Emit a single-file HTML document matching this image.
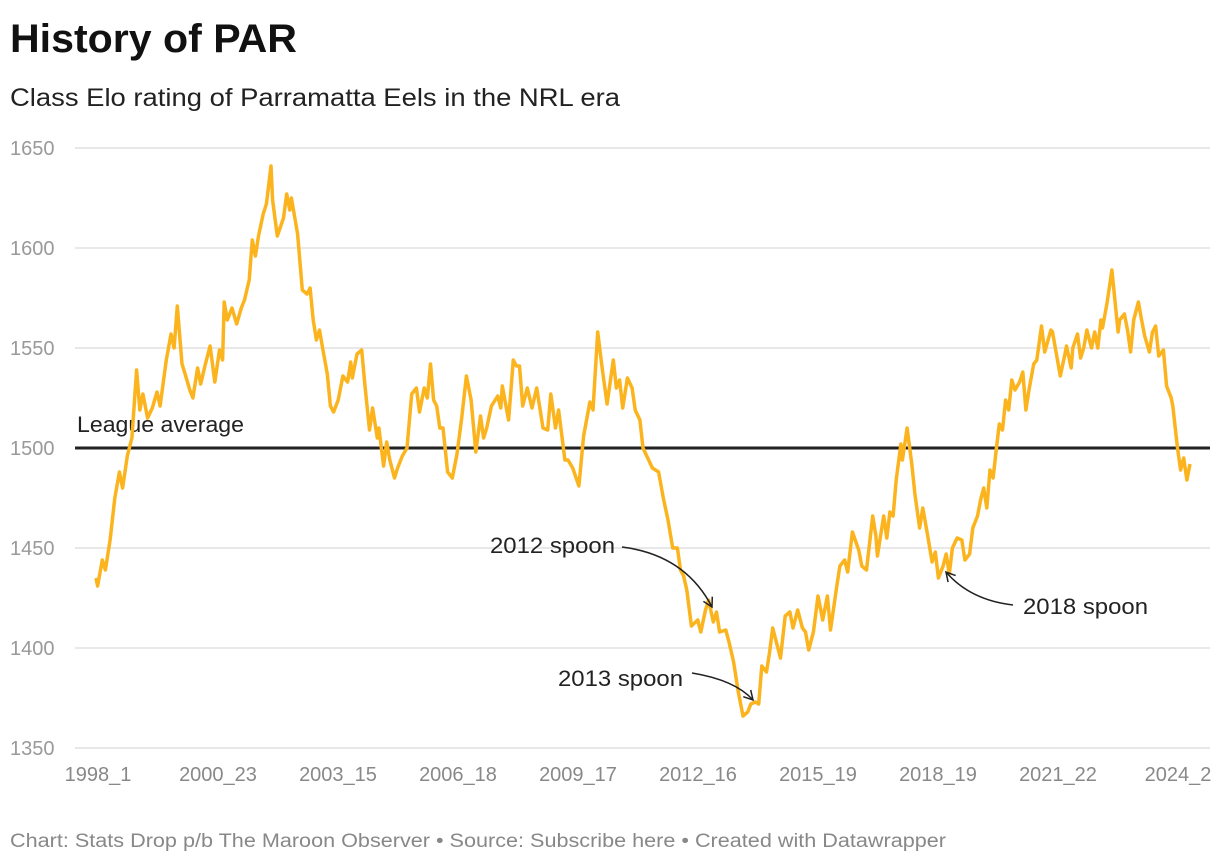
<!DOCTYPE html>
<html><head><meta charset="utf-8"><style>
body{margin:0;background:#fff;width:1220px;height:864px;overflow:hidden;font-family:"Liberation Sans",sans-serif}
svg{position:absolute;left:0;top:0}
</style></head><body>
<svg width="1220" height="864">
<text x="10" y="52" font-size="40" font-weight="bold" fill="#111" textLength="287" lengthAdjust="spacingAndGlyphs">History of PAR</text>
<text x="10" y="106" font-size="25" fill="#222" textLength="610" lengthAdjust="spacingAndGlyphs">Class Elo rating of Parramatta Eels in the NRL era</text>
<g id="grid"></g><g id="yt"></g><g id="xt"></g>
<line x1="75" x2="1210" y1="448" y2="448" stroke="#222" stroke-width="3"/>
<text x="77" y="432" font-size="22" fill="#222" textLength="167" lengthAdjust="spacingAndGlyphs">League average</text>
<path id="line" fill="none" stroke="#fbb41e" stroke-width="3.5" stroke-linejoin="round"/>
<defs><marker id="ah" markerWidth="12" markerHeight="12" refX="10" refY="6" orient="auto" markerUnits="userSpaceOnUse"><path d="M1,1 L10,6 L1,11" fill="none" stroke="#222" stroke-width="1.5"/></marker></defs>
<g font-size="22" fill="#222">
<text x="490" y="553" textLength="125" lengthAdjust="spacingAndGlyphs">2012 spoon</text>
<path d="M622,547 Q685,555 712,607" fill="none" stroke="#222" stroke-width="1.5" marker-end="url(#ah)"/>
<text x="558" y="686" textLength="125" lengthAdjust="spacingAndGlyphs">2013 spoon</text>
<path d="M692,673 Q735,680 753,700" fill="none" stroke="#222" stroke-width="1.5" marker-end="url(#ah)"/>
<text x="1023" y="614" textLength="125" lengthAdjust="spacingAndGlyphs">2018 spoon</text>
<path d="M1013,605 Q970,600 946,572" fill="none" stroke="#222" stroke-width="1.5" marker-end="url(#ah)"/>
</g>
<text x="10" y="847" font-size="19" fill="#888" textLength="936" lengthAdjust="spacingAndGlyphs">Chart: Stats Drop p/b The Maroon Observer • Source: Subscribe here • Created with Datawrapper</text>
</svg>
<script>
const games=[0,1,4,6,9,12,15,17,20,23,26,28,30,33,36,39,41,45,48,50,52,55,57,60,62,65,67,70,73,76,79,81,82,84,87,90,93,95,98,100,102,104,107,109,112,113,116,120,122,124,125,129,132,135,137,139,141,143,145,148,150,152,155,158,161,163,164,167,170,172,175,177,180,181,184,186,188,191,193,196,199,202,205,207,210,212,214,216,218,220,222,225,228,231,234,237,240,243,246,248,250,253,257,259,260,264,267,269,271,273,276,279,282,286,289,291,294,296,300,302,305,309,312,316,318,321,324,327,331,333,335,337,340,343,345,348,350,353,356,360,363,366,369,372,374,376,378,381,385,387,390,392,395,397,399,403,405,408,411,414,417,419,422,424,426,429,431,433,435,438,441,444,446,449,452,454,456,459,462,465,468,470,474,476,479,481,484,488,490,493,497,499,500,504,506,508,510,512,515,516,519,522,524,527,529,532,535,537,539,542,544,546,548,551,554,556,559,561,564,566,568,570,572,574,576,578,580,582,584,586,588,591,593,595,597,600,602,605,607,611,612,617,620,621,624,625,628,630,632,634,637,639,641,643,644,647,650,654,655,658,660,662,664,667,669,671,674,676,678,680,683,685,688,689,692,694,696,698,700];
const elo=[1435,1431,1444,1439,1454,1475,1488,1480,1496,1505,1539,1519,1527,1515,1520,1528,1521,1544,1557,1550,1571,1542,1537,1529,1525,1540,1532,1542,1551,1533,1549,1544,1573,1564,1570,1562,1570,1574,1584,1604,1596,1606,1617,1622,1641,1624,1606,1615,1627,1619,1625,1607,1579,1577,1580,1564,1554,1559,1550,1537,1521,1518,1524,1536,1533,1543,1535,1547,1549,1532,1509,1520,1505,1510,1491,1503,1494,1485,1490,1496,1500,1527,1530,1518,1530,1525,1542,1524,1521,1510,1510,1488,1485,1497,1515,1536,1524,1498,1516,1505,1510,1521,1526,1520,1531,1514,1544,1541,1541,1521,1530,1520,1530,1510,1509,1527,1510,1519,1494,1494,1490,1481,1506,1523,1519,1558,1539,1522,1544,1530,1534,1520,1535,1530,1519,1514,1500,1495,1490,1488,1475,1464,1450,1450,1439,1436,1429,1411,1414,1408,1419,1424,1413,1418,1408,1409,1403,1393,1378,1366,1368,1372,1373,1372,1391,1388,1398,1410,1404,1395,1416,1418,1410,1419,1410,1408,1399,1408,1426,1414,1426,1409,1431,1441,1444,1438,1458,1449,1441,1439,1466,1456,1446,1466,1455,1468,1466,1484,1502,1494,1510,1492,1477,1460,1470,1457,1443,1448,1435,1441,1447,1437,1450,1455,1454,1444,1447,1460,1466,1474,1480,1470,1489,1485,1499,1512,1509,1524,1519,1534,1529,1533,1538,1519,1529,1542,1544,1561,1548,1559,1558,1536,1547,1551,1540,1550,1557,1545,1550,1559,1550,1558,1550,1564,1560,1573,1589,1558,1564,1567,1559,1548,1564,1573,1564,1556,1548,1558,1561,1546,1549,1531,1525,1521,1500,1489,1495,1484,1492];
const yTicks=[1650,1600,1550,1500,1450,1400,1350];
const xTickLabels=["1998_1","2000_23","2003_15","2006_18","2009_17","2012_16","2015_19","2018_19","2021_22","2024_2"];
const xTickCenters=[98,218,338,458,578,698,818,938,1058,1178];
const NS="http://www.w3.org/2000/svg";
const y=v=>148+(1650-v)*2;
const x=g=>96+g*(1094/700);
const grid=document.getElementById('grid'),yt=document.getElementById('yt'),xt=document.getElementById('xt');
yTicks.forEach(v=>{
  const l=document.createElementNS(NS,'line');
  l.setAttribute('x1',75);l.setAttribute('x2',1210);l.setAttribute('y1',y(v));l.setAttribute('y2',y(v));
  l.setAttribute('stroke','#e0e0e0');l.setAttribute('stroke-width','1.5');
  
  
  grid.appendChild(l);
  const t=document.createElementNS(NS,'text');
  t.setAttribute('x',10);t.setAttribute('y',y(v)+7);t.setAttribute('font-size','20');t.setAttribute('fill','#999');
  t.textContent=v;
  
  
  yt.appendChild(t);
});
xTickLabels.forEach((s,i)=>{
  const t=document.createElementNS(NS,'text');
  t.setAttribute('x',xTickCenters[i]);t.setAttribute('y',781);t.setAttribute('font-size','20');t.setAttribute('fill','#888');
  t.setAttribute('text-anchor','middle');
  t.textContent=s;
  
  
  xt.appendChild(t);
});
document.getElementById('line').setAttribute('d',games.map((g,i)=>(i?'L':'M')+x(g).toFixed(1)+','+y(elo[i]).toFixed(1)).join(' '));
</script>
</body></html>
